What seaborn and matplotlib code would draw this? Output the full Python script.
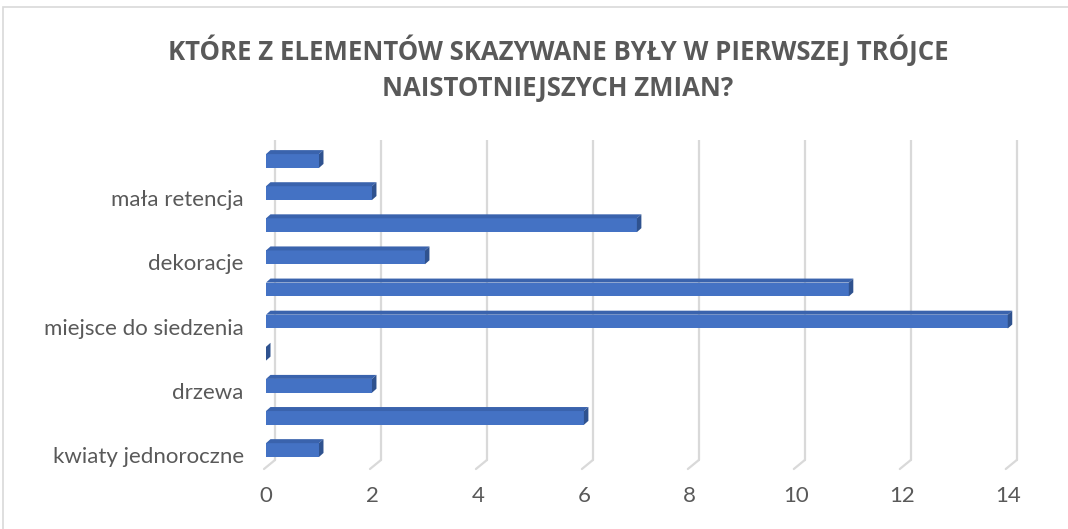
import numpy as np
import pandas as pd
import matplotlib
matplotlib.use("Agg")
import matplotlib.pyplot as plt
import matplotlib.transforms as mtransforms
from matplotlib.patches import Polygon, Rectangle
from matplotlib.lines import Line2D
import seaborn as sns

# categories top -> bottom (Excel hides every other label)
categories = ["kategoria 10", "mała retencja", "kategoria 8", "dekoracje", "kategoria 6",
              "miejsce do siedzenia", "kategoria 4", "drzewa", "kategoria 2", "kwiaty jednoroczne"]
shown_labels = ["", "mała retencja", "", "dekoracje", "",
                "miejsce do siedzenia", "", "drzewa", "", "kwiaty jednoroczne"]
values = [1, 2, 7, 3, 11, 14, 0, 2, 6, 1]
x_ticks = [0, 2, 4, 6, 8, 10, 12, 14]

title = "KTÓRE Z ELEMENTÓW SKAZYWANE BYŁY W PIERWSZEJ TRÓJCE\nNAISTOTNIEJSZYCH ZMIAN?"

FRONT = "#4472C4"
TOP = "#3A63AD"
SIDE = "#2F528F"
TEXT = "#595959"
GRID = "#D9D9D9"

sns.set_theme(style="white")
plt.rcParams["font.family"] = ["Lato", "DejaVu Sans"]

W, H = 1068, 529
fig = plt.figure(figsize=(W / 100, H / 100), dpi=100)
fig.patch.set_facecolor("white")

# chart border
fig.add_artist(Rectangle((3 / W, -0.1), 1.2, 1 - 7 / H + 0.1, transform=fig.transFigure,
                         fill=False, edgecolor=GRID, lw=1.2))

ax = fig.add_axes([266 / W, 1 - 469 / H, 755 / W, 329 / H])
df = pd.DataFrame({"cat": categories, "val": values})
sns.barplot(data=df, y="cat", x="val", order=categories, orient="h", color=FRONT,
            width=0.43, saturation=1, linewidth=0, ax=ax, zorder=3)

ax.set_xlim(0, 14.25)
ax.set_ylim(9.59, -0.654)
ax.set_xticks(x_ticks)
ax.set_xticklabels([str(t) for t in x_ticks])
ax.set_yticklabels(shown_labels)
ax.set_xlabel("")
ax.set_ylabel("")
for s in ax.spines.values():
    s.set_visible(False)
ax.tick_params(axis="both", length=0, colors=TEXT, labelsize=16)
ax.tick_params(axis="x", pad=12)
ax.tick_params(axis="y", pad=16)
for lab in ax.get_yticklabels():
    lab.set_transform(lab.get_transform() + mtransforms.ScaledTranslation(0, -5 / 100, fig.dpi_scale_trans))

# back wall gridlines, shifted for 3D look
ax.grid(axis="x", color=GRID, lw=1.6, zorder=0)
ax.grid(axis="y", visible=False)
wall = mtransforms.ScaledTranslation(9 / 100, 9 / 100, fig.dpi_scale_trans)
for gl in ax.get_xgridlines():
    gl.set_transform(gl.get_transform() + wall)

# floor feet of the gridlines
fig.canvas.draw()
y0 = ax.transAxes.transform((0, 0))[1]
for t in x_ticks:
    x0 = ax.transData.transform((t, 0))[0]
    fig.add_artist(Line2D([x0 - 2, x0 + 9], [y0, y0 + 9], color=GRID, lw=1.6,
                          transform=mtransforms.IdentityTransform()))

# 3D faces on the bars
px_x = ax.transData.transform((1, 0))[0] - ax.transData.transform((0, 0))[0]
px_y = ax.transData.transform((0, 0))[1] - ax.transData.transform((0, 1))[1]
dx = 4.5 / px_x
dy = 4.0 / px_y
for p in ax.patches:
    x, y, w, h = p.get_x(), p.get_y(), p.get_width(), p.get_height()
    top = y  # inverted axis: smaller y is upper edge
    bot = y + h
    ax.add_patch(Polygon([(x, top), (x + w, top), (x + w + dx, top - dy), (x + dx, top - dy)],
                         closed=True, facecolor=TOP, edgecolor="none", zorder=3))
    ax.add_patch(Polygon([(x + w, top), (x + w + dx, top - dy), (x + w + dx, bot - dy), (x + w, bot)],
                         closed=True, facecolor=SIDE, edgecolor="none", zorder=3))

fig.text(558 / W, 1 - 68 / H, title, ha="center", va="center", fontsize=18.5,
         fontweight="bold", family=["Open Sans", "DejaVu Sans"], color=TEXT, linespacing=1.45)

fig.savefig("out.png", dpi=100)
